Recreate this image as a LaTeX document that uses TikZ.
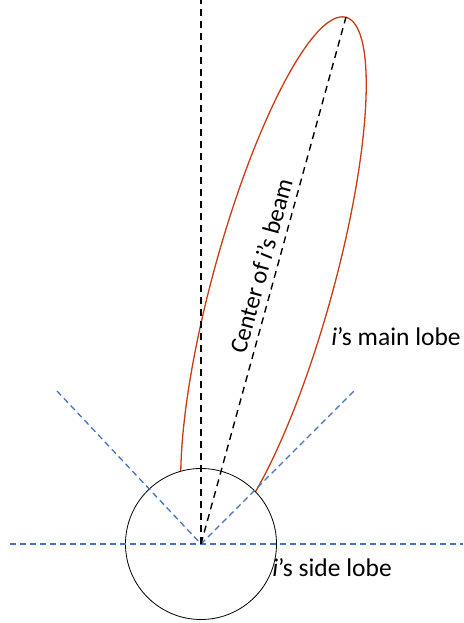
\documentclass[tikz,border=0pt]{standalone}
\usepackage{fontspec}
\setmainfont{Carlito}
\definecolor{lobered}{RGB}{200,60,20}
\definecolor{sideblue}{RGB}{68,114,196}
\begin{document}
\begin{tikzpicture}[x=1pt,y=-1pt,
  blackdash/.style={black,line width=1.4pt,dash pattern=on 7pt off 5pt},
  bluedash/.style={sideblue,line width=1.3pt,dash pattern=on 6pt off 4pt},
  lobe/.style={lobered,line width=1.3pt},
  lbl/.style={font=\fontsize{25.5}{30}\selectfont,inner sep=0pt},
  beamlbl/.style={font=\fontsize{24.5}{29}\selectfont,inner sep=0pt}]
\useasboundingbox (0,0) rectangle (463,623);
\coordinate (O) at (201,544);
\coordinate (vtop) at (201,0);
\coordinate (btop) at (346,17);
\coordinate (C) at (273.5,280.5);
\coordinate (bl) at (57,391);
\coordinate (br) at (355,390);
\coordinate (hl) at (10,544);
\coordinate (hr) at (463,544);
% lobe, hidden inside circle
\begin{scope}[even odd rule]
\clip (0,0) rectangle (463,623) (O) circle (75.5);
\draw[lobe,rotate around={74.6:(C)}] (C) ellipse (273 and 60);
\end{scope}
\draw[black,line width=0.8pt] (O) circle (75.5);
\draw[bluedash] (hl) -- (hr);
\draw[bluedash] (bl) -- (O) -- (br);
\draw[blackdash] (O) -- (vtop);
\draw[blackdash] (O) -- (btop);
\node[beamlbl,rotate=74.6] (beamlbl) at (261,266) {Center of \textit{i}’s beam};
\node[lbl] (mainlbl) at (396,337) {\textit{i}’s main lobe};
\node[lbl] (sidelbl) at (332,568) {\textit{i}’s side lobe};
\end{tikzpicture}
\end{document}
